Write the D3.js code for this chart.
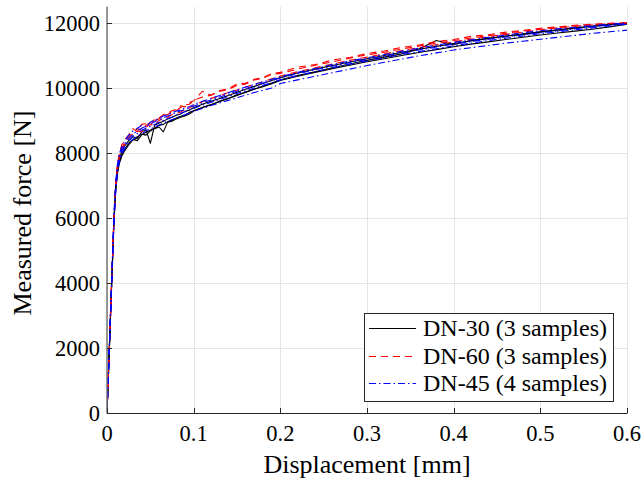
<!DOCTYPE html>
<html><head><meta charset="utf-8">
<script src="https://cdn.jsdelivr.net/npm/d3@7"></script>
<style>
html,body{margin:0;padding:0;background:#fff;}
svg text{font-family:"Liberation Serif","Times New Roman",serif;fill:#000;}
</style></head>
<body><svg id="c" width="644" height="481"></svg>
<script>
// ---------- data ----------
const xs = [0,0.002,0.004,0.006,0.008,0.010,0.012,0.014,0.017,0.020,
  0.025,0.030,0.035,0.040,0.045,0.050,0.055,0.060,0.065,0.070,0.075,0.080,0.085,0.090,0.095,0.100,
  0.11,0.12,0.13,0.14,0.15,0.16,0.17,0.18,0.19,0.20,
  0.22,0.24,0.26,0.28,0.30,0.32,0.34,0.36,0.38,0.40,0.42,0.44,0.46,0.48,0.50,0.52,0.54,0.56,0.58,0.60];

const dn30a = [0,1450,2950,4450,5900,6850,7400,7700,7950,8100,
  8300,8420,8380,8560,8640,8700,8760,8850,8880,8960,9010,9080,9130,9170,9250,9300,
  9400,9480,9600,9680,9790,9860,9970,10040,10130,10230,
  10360,10480,10590,10700,10810,10900,11000,11090,11180,11270,11350,11420,11490,11560,11630,11690,11750,11810,11880,11960];
const dn30b = [0,1500,3000,4500,6000,6950,7500,7800,8050,8200,
  8380,8500,8450,8650,8720,8300,8850,8920,8980,9050,9100,9160,9200,9280,9320,9390,
  9500,9590,9680,9770,9870,9960,10050,10140,10230,10320,
  10460,10580,10690,10800,10900,11000,11100,11190,11280,11370,11450,11520,11590,11650,11720,11780,11840,11900,11950,12000];
const dn30c = [0,1400,2900,4400,5850,6800,7350,7650,7900,8050,
  8250,8400,8500,8580,8550,8680,8750,8800,8650,8950,8980,9050,9100,9140,9200,9290,
  9400,9490,9580,9680,9770,9880,9960,10060,10150,10250,
  10380,10500,10620,10740,10850,10950,11050,11200,11460,11330,11460,11530,11600,11670,11730,11790,11850,11900,11950,11990];

const dn60a = [0,1500,3050,4550,6050,7050,7650,7950,8250,8400,
  8550,8750,8650,8880,8900,8850,9050,9080,9180,9220,9300,9340,9450,9420,9560,9600,
  9900,9780,9920,9980,10120,10150,10270,10320,10440,10480,
  10640,10720,10860,10940,11060,11140,11250,11320,11430,11490,11590,11640,11720,11770,11840,11880,11930,11960,11990,12010];
const dn60b = [0,1450,3000,4500,6000,7000,7600,7900,8150,8300,
  8500,8620,8750,8700,8850,8950,9000,9050,9150,9180,9280,9300,9400,9480,9500,9620,
  9720,9780,9900,9950,10080,10120,10250,10300,10420,10450,
  10580,10700,10800,10920,11020,11100,11200,11290,11380,11460,11540,11610,11680,11750,11810,11860,11910,11950,11980,12000];
const dn60c = [0,1400,2950,4450,5950,6950,7550,7850,8100,8250,
  8450,8580,8680,8650,8800,8880,8850,9000,9060,9100,9180,9220,9260,9350,9380,9480,
  9580,9680,9760,9860,9940,10030,10110,10200,10280,10370,
  10500,10620,10740,10850,10950,11050,11150,11240,11330,11420,11500,11580,11650,11720,11790,11850,11900,11940,11980,12010];

const dn45a = [0,1500,3000,4500,6000,7000,7550,7850,8100,8250,
  8450,8580,8680,8760,8820,8900,8960,9020,9080,9140,9190,9250,9300,9340,9390,9440,
  9540,9630,9720,9810,9900,9980,10070,10150,10230,10310,
  10440,10560,10670,10780,10880,10980,11080,11170,11260,11350,11430,11500,11570,11640,11700,11760,11820,11880,11930,11980];
const dn45b = [0,1450,2950,4400,5900,6850,7400,7700,7950,8100,
  8300,8420,8520,8600,8680,8740,8800,8860,8920,8980,9030,9080,9130,9180,9230,9280,
  9370,9460,9540,9620,9700,9780,9860,9930,10000,10140,
  10250,10360,10470,10580,10690,10790,10890,10990,11080,11170,11240,11310,11380,11440,11500,11560,11620,11680,11730,11780];
const dn45c = [0,1550,3100,4600,6100,7100,7650,7950,8200,8350,
  8550,8680,8760,8850,8800,8950,9020,9060,9140,9180,9240,9290,9330,9390,9420,9490,
  9590,9680,9770,9860,9940,10030,10110,10190,10270,10350,
  10480,10600,10720,10830,10930,11030,11130,11230,11320,11400,11480,11560,11630,11700,11760,11820,11870,11920,11960,12000];
const dn45d = [0,1400,2900,4350,5850,6850,7450,7750,8000,8180,
  8380,8520,8600,8700,8760,8820,8880,8950,9000,9060,9110,9170,9220,9270,9320,9370,
  9470,9560,9650,9740,9830,9910,10000,10080,10160,10250,
  10380,10500,10620,10730,10830,10930,11030,11120,11210,11300,11380,11460,11530,11600,11670,11730,11790,11850,11910,11960];

const groupNames = ["DN-30 (3 samples)","DN-60 (3 samples)","DN-45 (4 samples)"];
const groupSamples = [[dn30a,dn30b,dn30c],[dn60a,dn60b,dn60c],[dn45a,dn45b,dn45c,dn45d]];
const xTicks = [0,0.1,0.2,0.3,0.4,0.5,0.6];
const yTicks = [0,2000,4000,6000,8000,10000,12000];
const xLabel = "Displacement [mm]";
const yLabel = "Measured force [N]";

// ---------- styles ----------
const colors = ["#000000","#ff0000","#0000ff"];
const dashes = [null,"7,5","7,3,1.5,3"];

// ---------- layout ----------
const L=107, R=627, T=6.75, B=413;
const x = d3.scaleLinear().domain([0,0.6]).range([L,R]);
const y = d3.scaleLinear().domain([0,12500]).range([B,T]);
const svg = d3.select("#c");

svg.append("defs").append("clipPath").attr("id","clip")
  .append("rect").attr("x",L).attr("y",T).attr("width",R-L+1).attr("height",B-T);

// grid
const g = svg.append("g");
g.selectAll(".gx").data(xTicks).join("line")
  .attr("x1",d=>Math.round(x(d))+0.5).attr("x2",d=>Math.round(x(d))+0.5)
  .attr("y1",T).attr("y2",B).attr("stroke","#e5e5e5").attr("stroke-width",1);
g.selectAll(".gy").data(yTicks).join("line")
  .attr("y1",d=>Math.round(y(d))+0.5).attr("y2",d=>Math.round(y(d))+0.5)
  .attr("x1",L).attr("x2",R).attr("stroke","#e5e5e5").attr("stroke-width",1);

// data lines
const line = d3.line().x((d,i)=>x(xs[i])).y(d=>y(d));
const dg = svg.append("g").attr("clip-path","url(#clip)");
groupSamples.forEach((samples,gi)=>{
  samples.forEach(s=>{
    dg.append("path").datum(s).attr("d",line)
      .attr("fill","none").attr("stroke",colors[gi]).attr("stroke-width",1.1)
      .attr("stroke-dasharray",dashes[gi]).attr("stroke-linejoin","round");
  });
});

// axes
const ax = svg.append("g");
ax.append("line").attr("x1",L).attr("x2",L).attr("y1",T).attr("y2",B+0.5)
  .attr("stroke","#6e6e6e").attr("stroke-width",1.4);
ax.append("line").attr("x1",L).attr("x2",R+0.5).attr("y1",B+0.5).attr("y2",B+0.5)
  .attr("stroke","#262626").attr("stroke-width",1);
ax.selectAll(".tx").data(xTicks).join("line")
  .attr("x1",d=>Math.round(x(d))+0.5).attr("x2",d=>Math.round(x(d))+0.5)
  .attr("y1",B).attr("y2",B-5).attr("stroke","#262626");
ax.selectAll(".ty").data(yTicks).join("line")
  .attr("y1",d=>Math.round(y(d))+0.5).attr("y2",d=>Math.round(y(d))+0.5)
  .attr("x1",L).attr("x2",L+5).attr("stroke","#262626");

ax.selectAll(".lx").data(xTicks).join("text")
  .attr("x",d=>x(d)).attr("y",441).attr("text-anchor","middle")
  .style("font-size","22.5px").text(d=>d===0?"0":d3.format(".1f")(d));
ax.selectAll(".ly").data(yTicks).join("text")
  .attr("x",100).attr("y",d=>y(d)+7.5).attr("text-anchor","end")
  .style("font-size","22.5px").text(d=>String(d));

svg.append("text").attr("x",367).attr("y",473).attr("text-anchor","middle")
  .style("font-size","26px").text(xLabel);
svg.append("text").attr("transform","translate(31,213) rotate(-90)").attr("text-anchor","middle")
  .style("font-size","26px").text(yLabel);

// legend
const lg = svg.append("g");
lg.append("rect").attr("x",364.5).attr("y",313.5).attr("width",249).attr("height",88)
  .attr("fill","#fff").attr("stroke","#262626").attr("stroke-width",1);
const rowY = [328,356,383];
groupNames.forEach((n,i)=>{
  lg.append("line").attr("x1",369).attr("x2",416).attr("y1",rowY[i]+0.5).attr("y2",rowY[i]+0.5)
    .attr("stroke",colors[i]).attr("stroke-width",1).attr("stroke-dasharray",dashes[i]);
  lg.append("text").attr("x",423).attr("y",rowY[i]+8).style("font-size","24px").text(n);
});
</script></body></html>
